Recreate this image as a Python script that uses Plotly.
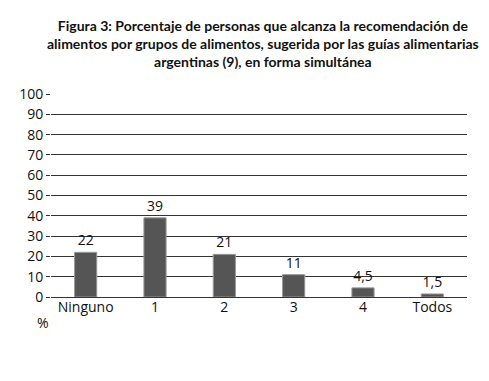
import plotly.graph_objects as go

categories = ["Ninguno", "1", "2", "3", "4", "Todos"]
values = [22, 39, 21, 11, 4.5, 1.5]
value_labels = ["22", "39", "21", "11", "4,5", "1,5"]
y_ticks = [0, 10, 20, 30, 40, 50, 60, 70, 80, 90, 100]
title_text = ("Figura 3: Porcentaje de personas que alcanza la recomendación de<br>"
              "alimentos por grupos de alimentos, sugerida por las guías alimentarias<br>"
              "argentinas (9), en forma simultánea")

fig = go.Figure()
fig.add_trace(go.Bar(
    x=categories, y=values, text=value_labels, textposition="outside",
    textfont=dict(size=14, color="#111111"),
    marker=dict(color="#555555", line=dict(color="#999999", width=1)),
    width=0.32, cliponaxis=False,
))

fig.update_layout(
    width=473, height=365,
    margin=dict(l=43, r=14, t=86, b=76),
    paper_bgcolor="white", plot_bgcolor="white",
    font=dict(family="Open Sans, sans-serif", color="#111"),
    showlegend=False,
    xaxis=dict(tickfont=dict(size=14, color="#111"), showline=False, ticks="", fixedrange=True),
    yaxis=dict(range=[0, 100], tickvals=y_ticks, showgrid=True, gridcolor="#333", gridwidth=1,
               ticks="outside", ticklen=4, tickcolor="#333", tickfont=dict(size=14, color="#111"),
               zeroline=True, zerolinecolor="#333", zerolinewidth=1),
)
fig.add_annotation(
    text="<b>" + title_text + "</b>",
    x=0.51, y=1.0, xref="paper", yref="paper", yshift=22, showarrow=False, align="center",
    xanchor="center", yanchor="bottom",
    font=dict(family="Lato, sans-serif", size=14, color="#111"),
)
fig.add_annotation(text="%", x=0.0, y=0, xref="paper", yref="paper", yshift=-14, xanchor="right", yanchor="top",
                   showarrow=False, font=dict(size=14, color="#111"))
fig.write_html("out.html")
